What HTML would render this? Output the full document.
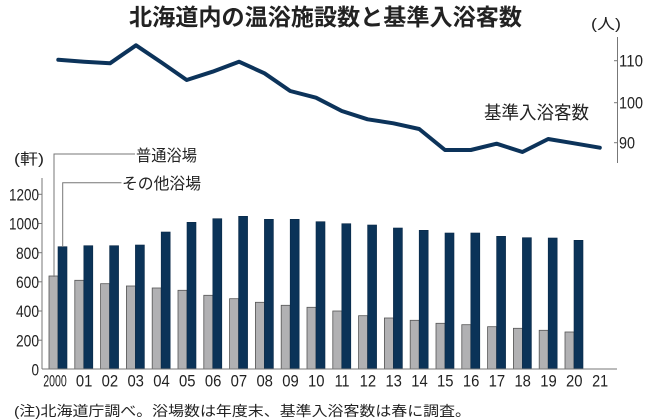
<!DOCTYPE html>
<html>
<head>
<meta charset="utf-8">
<style>
  html, body { margin:0; padding:0; background:#fff; }
  svg { display:block; }
  text { font-family: "Liberation Sans", "Noto Sans CJK JP", sans-serif; fill:#222; }
  .num { font-size:16.5px; }
</style>
</head>
<body>
<svg width="650" height="420" viewBox="0 0 650 420" xmlns="http://www.w3.org/2000/svg">
  <rect width="650" height="420" fill="#fff"/>

  <!-- Title -->
  <text x="129" y="25" font-size="23" font-weight="bold" textLength="393" lengthAdjust="spacingAndGlyphs" fill="#1a1a1a">北海道内の温浴施設数と基準入浴客数</text>

  <!-- Right axis -->
  <text x="591" y="29" font-size="15" textLength="30" lengthAdjust="spacingAndGlyphs">(人)</text>
  <line x1="617.5" y1="37" x2="617.5" y2="163" stroke="#777" stroke-width="1"/>
  <line x1="614" y1="60.7" x2="617.5" y2="60.7" stroke="#777" stroke-width="1"/>
  <line x1="614" y1="102.7" x2="617.5" y2="102.7" stroke="#777" stroke-width="1"/>
  <line x1="614" y1="142.7" x2="617.5" y2="142.7" stroke="#777" stroke-width="1"/>
  <text class="num" x="619" y="66.7" textLength="24" lengthAdjust="spacingAndGlyphs">110</text>
  <text class="num" x="619" y="108.7" textLength="24" lengthAdjust="spacingAndGlyphs">100</text>
  <text class="num" x="619" y="148.7" textLength="16" lengthAdjust="spacingAndGlyphs">90</text>

  <!-- Line series -->
  <polyline fill="none" stroke="#0c335a" stroke-width="4" stroke-linejoin="round" stroke-linecap="round"
    points="58.3,59.7 84.1,61.7 110,63.3 136,45.3 161.5,62.5 186.7,80 212.5,71.7 239,61.7 264.5,73.3 290.2,91 316,97.7 341.8,111 367.6,119.3 393.4,123.3 419.2,129 445,150 470.8,150 496.6,143.7 522.4,152 548.2,139 574,143.3 599.8,147.7"/>
  <text x="484" y="119" font-size="18" textLength="105" lengthAdjust="spacingAndGlyphs">基準入浴客数</text>

  <!-- Left axis -->
  <text x="14" y="164" font-size="15" textLength="30" lengthAdjust="spacingAndGlyphs">(軒)</text>
  <line x1="42" y1="178" x2="42" y2="369" stroke="#777" stroke-width="1"/>
  <g stroke="#777" stroke-width="1">
    <line x1="38.5" y1="194.3" x2="42" y2="194.3"/>
    <line x1="38.5" y1="223.5" x2="42" y2="223.5"/>
    <line x1="38.5" y1="252.7" x2="42" y2="252.7"/>
    <line x1="38.5" y1="281.8" x2="42" y2="281.8"/>
    <line x1="38.5" y1="311" x2="42" y2="311"/>
    <line x1="38.5" y1="340.2" x2="42" y2="340.2"/>
  </g>
  <g class="num" text-anchor="end">
    <text class="num" x="39" y="200.5" textLength="30" lengthAdjust="spacingAndGlyphs">1200</text>
    <text class="num" x="39" y="229.7" textLength="30" lengthAdjust="spacingAndGlyphs">1000</text>
    <text class="num" x="39" y="258.9" textLength="23" lengthAdjust="spacingAndGlyphs">800</text>
    <text class="num" x="39" y="288" textLength="23" lengthAdjust="spacingAndGlyphs">600</text>
    <text class="num" x="39" y="317.2" textLength="23" lengthAdjust="spacingAndGlyphs">400</text>
    <text class="num" x="39" y="346.4" textLength="23" lengthAdjust="spacingAndGlyphs">200</text>
    <text class="num" x="39" y="375.5" textLength="7.5" lengthAdjust="spacingAndGlyphs">0</text>
  </g>

  <!-- Bars -->
  <g fill="#b1b1b3" stroke="#555" stroke-width="0.8">
    <rect x="49" y="276" width="9" height="93"/>
    <rect x="74.8" y="280.3" width="9" height="88.7"/>
    <rect x="100.6" y="283.7" width="9" height="85.3"/>
    <rect x="126.4" y="286" width="9" height="83"/>
    <rect x="152.2" y="288" width="9" height="81"/>
    <rect x="178" y="290.3" width="9" height="78.7"/>
    <rect x="203.8" y="295.3" width="9" height="73.7"/>
    <rect x="229.6" y="298.7" width="9" height="70.3"/>
    <rect x="255.4" y="302.3" width="9" height="66.7"/>
    <rect x="281.2" y="305.3" width="9" height="63.7"/>
    <rect x="307" y="307.3" width="9" height="61.7"/>
    <rect x="332.8" y="311" width="9" height="58"/>
    <rect x="358.6" y="315.7" width="9" height="53.3"/>
    <rect x="384.4" y="318" width="9" height="51"/>
    <rect x="410.2" y="320.3" width="9" height="48.7"/>
    <rect x="436" y="323.3" width="9" height="45.7"/>
    <rect x="461.8" y="324.7" width="9" height="44.3"/>
    <rect x="487.6" y="326.7" width="9" height="42.3"/>
    <rect x="513.4" y="328.3" width="9" height="40.7"/>
    <rect x="539.2" y="330.3" width="9" height="38.7"/>
    <rect x="565" y="332" width="9" height="37"/>
  </g>
  <g fill="#0b3358" stroke="#0a2a48" stroke-width="0.6">
    <rect x="58" y="246.7" width="9" height="122.3"/>
    <rect x="83.8" y="245.7" width="9" height="123.3"/>
    <rect x="109.6" y="245.7" width="9" height="123.3"/>
    <rect x="135.4" y="245" width="9" height="124"/>
    <rect x="161.2" y="232" width="9" height="137"/>
    <rect x="187" y="222.3" width="9" height="146.7"/>
    <rect x="212.8" y="218.7" width="9" height="150.3"/>
    <rect x="238.6" y="216.3" width="9" height="152.7"/>
    <rect x="264.4" y="219.3" width="9" height="149.7"/>
    <rect x="290.2" y="219.3" width="9" height="149.7"/>
    <rect x="316" y="221.7" width="9" height="147.3"/>
    <rect x="341.8" y="223.7" width="9" height="145.3"/>
    <rect x="367.6" y="225" width="9" height="144"/>
    <rect x="393.4" y="228" width="9" height="141"/>
    <rect x="419.2" y="230.3" width="9" height="138.7"/>
    <rect x="445" y="233" width="9" height="136"/>
    <rect x="470.8" y="233" width="9" height="136"/>
    <rect x="496.6" y="236.3" width="9" height="132.7"/>
    <rect x="522.4" y="237.7" width="9" height="131.3"/>
    <rect x="548.2" y="238" width="9" height="131"/>
    <rect x="574" y="240.3" width="9" height="128.7"/>
  </g>

  <!-- Baseline -->
  <line x1="42" y1="369" x2="617" y2="369" stroke="#777" stroke-width="1"/>

  <!-- Legend callouts -->
  <polyline fill="none" stroke="#777" stroke-width="1" points="54,277 54,154 135,154"/>
  <polyline fill="none" stroke="#777" stroke-width="1" points="62.7,247 62.7,182.7 121.5,182.7"/>
  <text x="136" y="161" font-size="16" textLength="61" lengthAdjust="spacingAndGlyphs">普通浴場</text>
  <text x="122" y="189" font-size="16" textLength="79" lengthAdjust="spacingAndGlyphs">その他浴場</text>

  <!-- X labels -->
  <g text-anchor="middle">
    <text class="num" x="55" y="386.5" textLength="23.5" lengthAdjust="spacingAndGlyphs">2000</text>
    <text class="num" x="84.1" y="386.5" textLength="16.5" lengthAdjust="spacingAndGlyphs">01</text>
    <text class="num" x="109.9" y="386.5" textLength="16.5" lengthAdjust="spacingAndGlyphs">02</text>
    <text class="num" x="135.7" y="386.5" textLength="16.5" lengthAdjust="spacingAndGlyphs">03</text>
    <text class="num" x="161.5" y="386.5" textLength="16.5" lengthAdjust="spacingAndGlyphs">04</text>
    <text class="num" x="187.3" y="386.5" textLength="16.5" lengthAdjust="spacingAndGlyphs">05</text>
    <text class="num" x="213.1" y="386.5" textLength="16.5" lengthAdjust="spacingAndGlyphs">06</text>
    <text class="num" x="238.9" y="386.5" textLength="16.5" lengthAdjust="spacingAndGlyphs">07</text>
    <text class="num" x="264.7" y="386.5" textLength="16.5" lengthAdjust="spacingAndGlyphs">08</text>
    <text class="num" x="290.5" y="386.5" textLength="16.5" lengthAdjust="spacingAndGlyphs">09</text>
    <text class="num" x="316.3" y="386.5" textLength="16.5" lengthAdjust="spacingAndGlyphs">10</text>
    <text class="num" x="342.1" y="386.5" textLength="15" lengthAdjust="spacingAndGlyphs">11</text>
    <text class="num" x="367.9" y="386.5" textLength="16.5" lengthAdjust="spacingAndGlyphs">12</text>
    <text class="num" x="393.7" y="386.5" textLength="16.5" lengthAdjust="spacingAndGlyphs">13</text>
    <text class="num" x="419.5" y="386.5" textLength="16.5" lengthAdjust="spacingAndGlyphs">14</text>
    <text class="num" x="445.3" y="386.5" textLength="16.5" lengthAdjust="spacingAndGlyphs">15</text>
    <text class="num" x="471.1" y="386.5" textLength="16.5" lengthAdjust="spacingAndGlyphs">16</text>
    <text class="num" x="496.9" y="386.5" textLength="16.5" lengthAdjust="spacingAndGlyphs">17</text>
    <text class="num" x="522.7" y="386.5" textLength="16.5" lengthAdjust="spacingAndGlyphs">18</text>
    <text class="num" x="548.5" y="386.5" textLength="16.5" lengthAdjust="spacingAndGlyphs">19</text>
    <text class="num" x="574.3" y="386.5" textLength="16.5" lengthAdjust="spacingAndGlyphs">20</text>
    <text class="num" x="600.1" y="386.5" textLength="16" lengthAdjust="spacingAndGlyphs">21</text>
  </g>

  <!-- Footnote -->
  <text x="14" y="416" font-size="14" textLength="457" lengthAdjust="spacingAndGlyphs">(注)北海道庁調べ。浴場数は年度末、基準入浴客数は春に調査。</text>
</svg>
</body>
</html>
